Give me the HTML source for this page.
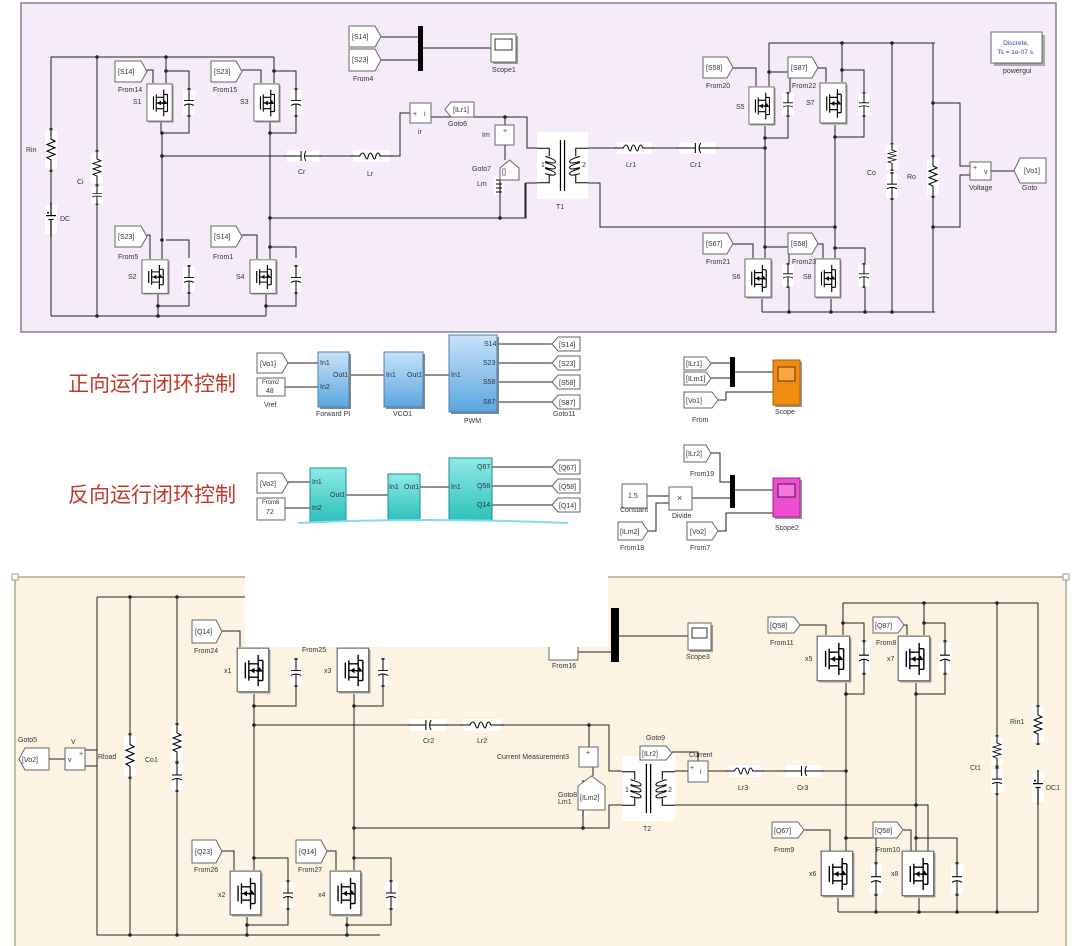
<!DOCTYPE html>
<html><head><meta charset="utf-8"><style>
html,body{margin:0;padding:0;background:#fff;}
svg{display:block;}
text{font-family:"Liberation Sans",sans-serif;font-size:7px;fill:#333;}
.w{stroke:#222;stroke-width:1;fill:none;}
.tag{fill:#fff;stroke:#666;stroke-width:1;}
.blk{fill:#fff;stroke:#666;stroke-width:1;}
.cn{font-family:"Liberation Sans","Noto Sans CJK SC",sans-serif;font-size:21px;fill:#c0392b;}
</style></head><body>
<svg width="1080" height="946" viewBox="0 0 1080 946" xmlns="http://www.w3.org/2000/svg">
<defs>
<symbol id="mos" viewBox="0 0 30 42" preserveAspectRatio="none">
<rect x="2.5" y="2.5" width="27" height="39" fill="#999"/>
<rect x="1" y="1" width="27" height="39" fill="#fff" stroke="#666"/>
<path d="M8 14v14 M11 12v18 M11 15h8v-8 M11 27h8v8 M11 21h8 M19 15v12 M23 12v18 M19 12h4 M19 30h4" stroke="#000" fill="none" stroke-width="1.2"/>
<path d="M12 21l4-2.5v5z M20 18l3 4h-6z" fill="#000"/>
</symbol>
<symbol id="capv" viewBox="0 0 12 30" preserveAspectRatio="none">
<rect x="0" y="2" width="12" height="26" fill="#fff"/>
<path d="M6 0v13 M1 13h10 M1 18q5-3 10 0 M6 16.5v13.5" stroke="#000" fill="none"/>
<rect x="4.5" y="0" width="3" height="2" fill="#333"/><rect x="4.5" y="28" width="3" height="2" fill="#333"/>
</symbol>
<symbol id="resv" viewBox="0 0 12 40" preserveAspectRatio="none">
<rect x="0" y="3" width="12" height="34" fill="#fff"/>
<path d="M6 0v10 l4 2-8 3 8 3-8 3 8 3-8 3 4 2v11" stroke="#000" fill="none"/>
<rect x="4.5" y="0" width="3" height="2" fill="#333"/><rect x="4.5" y="38" width="3" height="2" fill="#333"/>
</symbol>
<symbol id="bat" viewBox="0 0 12 36" preserveAspectRatio="none">
<rect x="0" y="3" width="12" height="30" fill="#fff"/>
<path d="M6 0v14 M1 14h10 M3.5 18h5 M6 18v18" stroke="#000" fill="none" stroke-width="1.2"/>
<circle cx="3" cy="11" r="1" fill="#000"/>
</symbol>
<symbol id="indh" viewBox="0 0 40 12" preserveAspectRatio="none">
<rect x="3" y="0" width="34" height="12" fill="#fff"/>
<path d="M0 6h9 q3-6 5 0 q2 6 3 0 q2-6 4 0 q2 6 3 0 q2-6 4 0 h12" stroke="#000" fill="none"/>
</symbol>
<symbol id="caph" viewBox="0 0 40 12" preserveAspectRatio="none">
<rect x="3" y="0" width="34" height="12" fill="#fff"/>
<path d="M0 6h18 M18 1v10 M23 1q-3 5 0 10 M21.5 6h18.5" stroke="#000" fill="none"/>
</symbol>
<symbol id="xf" viewBox="0 0 50 66" preserveAspectRatio="none">
<rect x="0" y="0" width="50" height="66" fill="#fff"/>
<path d="M23 8v50 M27 8v50" stroke="#000" stroke-width="1.2"/>
<path d="M0 16h12v8 M0 50h12v-8 M50 16h-12v8 M50 50h-12v-8" stroke="#000" fill="none"/>
<path d="M8 24q10 3 10 5q0 3-10 0 M8 30q10 3 10 5q0 3-10 0 M8 36q10 3 10 5q0 3-10 0 M42 24q-10 3-10 5q0 3 10 0 M42 30q-10 3-10 5q0 3 10 0 M42 36q-10 3-10 5q0 3 10 0" stroke="#000" fill="none"/>
</symbol>
</defs>

<!-- ===== TOP PANEL ===== -->
<rect x="21" y="3" width="1035" height="329" fill="#f6ebf8" stroke="#8c7d92" stroke-width="1.5"/>

<g class="w">
<path d="M51 57H274 M51 316H266 M51 57V316 M97 57V316"/>
<path d="M166 57V83 M166 71H189V88 M161 122V133H189V117 M162 133V259 M162 156H284"/>
<path d="M166 240H189V258 M162 240V259 M158 294V316 M158 306H189V294"/>
<path d="M274 57V83 M274 71H296V88 M270 122V133H296V117 M270 133V259 M270 218H526V183H537"/>
<path d="M270 247H296V258 M266 294V316 M266 306H296V294"/>
<path d="M147 70H153V83 M242 70H261V83 M147 235H150V259 M242 235H257V259"/>
<path d="M322 156H350 M393 156H400V113H410"/>
<path d="M431 117H505V125 M505 117H527V148H537 M505 145V160 M500 193V218 M525 183V218"/>
<path d="M381 37H419 M381 60H419 M423 48H491"/>
<path d="M588 148H614 M655 148H676 M719 148H766 M588 183H600V227H835"/>
<path d="M769 43H935 M769 43V86 M769 72H790V92 M765 126V138H788V117 M765 138V258"/>
<path d="M842 43V82 M842 70H864V92 M835 125V137H864V117 M835 137V258"/>
<path d="M765 247H789V263 M835 248H865V263 M762 299V312 M831 299V312 M762 312H935 M789 288V312 M865 288V312"/>
<path d="M892 43V143 M892 200V312 M933 43V155 M933 198V312 M933 103H960V166H970 M933 227H960V175H970 M991 171H1014"/>
<path d="M733 68H756V86 M818 68H826V82 M733 244H753V258 M818 244H823V258"/>
</g>
<g fill="#222">
<circle cx="97" cy="57" r="1.8"/><circle cx="166" cy="57" r="1.8"/><circle cx="97" cy="316" r="1.8"/><circle cx="158" cy="316" r="1.8"/>
<circle cx="166" cy="71" r="1.8"/><circle cx="162" cy="133" r="1.8"/><circle cx="162" cy="156" r="1.8"/><circle cx="162" cy="240" r="1.8"/><circle cx="158" cy="306" r="1.8"/>
<circle cx="274" cy="71" r="1.8"/><circle cx="270" cy="133" r="1.8"/><circle cx="270" cy="218" r="1.8"/><circle cx="270" cy="247" r="1.8"/><circle cx="266" cy="306" r="1.8"/>
<circle cx="505" cy="117" r="1.8"/><circle cx="500" cy="218" r="1.8"/>
<circle cx="842" cy="43" r="1.8"/><circle cx="892" cy="43" r="1.8"/><circle cx="769" cy="72" r="1.8"/><circle cx="842" cy="70" r="1.8"/>
<circle cx="765" cy="138" r="1.8"/><circle cx="835" cy="137" r="1.8"/><circle cx="765" cy="148" r="1.8"/><circle cx="835" cy="227" r="1.8"/>
<circle cx="765" cy="247" r="1.8"/><circle cx="835" cy="248" r="1.8"/><circle cx="789" cy="312" r="1.8"/><circle cx="831" cy="312" r="1.8"/><circle cx="865" cy="312" r="1.8"/><circle cx="892" cy="312" r="1.8"/>
<circle cx="933" cy="103" r="1.8"/><circle cx="933" cy="227" r="1.8"/>
</g>
<use href="#resv" x="45" y="128" width="12" height="44"/>
<use href="#bat" x="45" y="202" width="12" height="35"/>
<use href="#resv" x="91" y="150" width="12" height="36"/>
<use href="#capv" x="91" y="185" width="12" height="20"/>
<use href="#mos" x="146" y="83" width="28" height="40"/>
<use href="#mos" x="253" y="83" width="28" height="40"/>
<use href="#mos" x="141" y="259" width="29" height="36"/>
<use href="#mos" x="249" y="259" width="29" height="36"/>
<use href="#capv" x="183" y="88" width="12" height="29"/>
<use href="#capv" x="290" y="88" width="12" height="29"/>
<use href="#capv" x="183" y="265" width="12" height="29"/>
<use href="#capv" x="290" y="265" width="12" height="29"/>
<use href="#caph" x="284" y="150" width="38" height="12"/>
<use href="#indh" x="350" y="150" width="43" height="12"/>
<use href="#xf" x="537" y="132" width="51" height="67"/>
<use href="#indh" x="614" y="142" width="41" height="12"/>
<use href="#caph" x="676" y="142" width="43" height="12"/>
<use href="#mos" x="748" y="86" width="28" height="40"/>
<use href="#mos" x="819" y="82" width="29" height="43"/>
<use href="#mos" x="744" y="258" width="29" height="41"/>
<use href="#mos" x="814" y="258" width="28" height="41"/>
<use href="#capv" x="782" y="92" width="12" height="25"/>
<use href="#capv" x="858" y="92" width="12" height="25"/>
<use href="#capv" x="782" y="263" width="12" height="25"/>
<use href="#capv" x="858" y="263" width="12" height="25"/>
<use href="#resv" x="886" y="143" width="12" height="28"/>
<use href="#capv" x="886" y="172" width="12" height="28"/>
<use href="#resv" x="927" y="155" width="12" height="43"/>
<rect x="494" y="177" width="10" height="18" fill="#fff"/>
<path d="M500 177v18 M496 180h6 M496 184h6 M496 188h6 M496 192h6" stroke="#000"/>

<g><path class="tag" d="M115 61h26l6 10.5-6 10.5h-26z"/><text x="118" y="74">[S14]</text></g>
<g><path class="tag" d="M211 61h25l6 10.5-6 10.5h-25z"/><text x="214" y="74">[S23]</text></g>
<g><path class="tag" d="M115 226h26l6 10.5-6 10.5h-26z"/><text x="118" y="239">[S23]</text></g>
<g><path class="tag" d="M211 226h25l6 10.5-6 10.5h-25z"/><text x="214" y="239">[S14]</text></g>
<g><path class="tag" d="M349 26h26l6 10.5-6 10.5h-26z"/><text x="352" y="39">[S14]</text></g>
<g><path class="tag" d="M349 49h26l6 11-6 11h-26z"/><text x="352" y="62">[S23]</text></g>
<rect x="418" y="26" width="5" height="45" fill="#000"/>
<rect x="493" y="36" width="25" height="28" fill="#999"/><rect x="491" y="34" width="25" height="28" class="blk"/><rect x="495" y="39" width="17" height="11" fill="#fff" stroke="#333"/>
<rect x="410" y="103" width="21" height="20" class="blk"/><text x="413" y="116">+</text><text x="424" y="116">i</text>
<g><path class="tag" d="M451 102h23v15h-23l-6-7.5z"/><text x="453" y="112">[ILr1]</text></g>
<rect x="495" y="125" width="19" height="20" class="blk"/><text x="503" y="133">+</text>
<g><path class="tag" d="M500 168l9.5-8 9.5 8v12h-19z"/><text x="502" y="174">[]</text></g>
<g><path class="tag" d="M703 57h24l6 10.5-6 10.5h-24z"/><text x="706" y="70">[S58]</text></g>
<g><path class="tag" d="M788 57h24l6 10.5-6 10.5h-24z"/><text x="791" y="70">[S87]</text></g>
<g><path class="tag" d="M703 233h24l6 10.5-6 10.5h-24z"/><text x="706" y="246">[S67]</text></g>
<g><path class="tag" d="M788 233h24l6 10.5-6 10.5h-24z"/><text x="791" y="246">[S58]</text></g>
<rect x="970" y="162" width="21" height="18" class="blk"/><text x="973" y="170">+</text><text x="984" y="174">v</text>
<g><path class="tag" d="M1020 158h26v25h-26l-6-12.5z"/><text x="1024" y="173">[Vo1]</text></g>
<rect x="994" y="35" width="51" height="31" fill="#aaa"/><rect x="991" y="32" width="51" height="31" class="blk"/>
<text x="1016" y="45" text-anchor="middle" style="fill:#2a3d9a;font-size:6.5px">Discrete,</text>
<text x="1016" y="54" text-anchor="middle" style="fill:#2a3d9a;font-size:6.5px">Ts = 1e-07 s.</text>

<text x="26" y="152">Rin</text><text x="60" y="221">DC</text><text x="77" y="184">Ci</text>
<text x="118" y="92">From14</text><text x="213" y="92">From15</text><text x="118" y="259">From5</text><text x="213" y="259">From1</text>
<text x="133" y="104">S1</text><text x="240" y="104">S3</text><text x="128" y="279">S2</text><text x="236" y="279">S4</text>
<text x="298" y="174">Cr</text><text x="367" y="176">Lr</text><text x="418" y="134">ir</text><text x="448" y="126">Goto6</text>
<text x="482" y="137">Im</text><text x="472" y="171">Goto7</text><text x="477" y="186">Lm</text>
<text x="353" y="81">From4</text><text x="492" y="72">Scope1</text>
<text x="541" y="167">1</text><text x="582" y="167">2</text><text x="556" y="209">T1</text>
<text x="626" y="167">Lr1</text><text x="690" y="167">Cr1</text>
<text x="706" y="88">From20</text><text x="792" y="88">From22</text><text x="706" y="264">From21</text><text x="792" y="264">From23</text>
<text x="736" y="109">S5</text><text x="806" y="105">S7</text><text x="732" y="279">S6</text><text x="803" y="279">S8</text>
<text x="867" y="175">Co</text><text x="907" y="179">Ro</text><text x="969" y="190">Voltage</text><text x="1022" y="190">Goto</text>
<text x="1003" y="73">powergui</text>

<!-- ===== MIDDLE ===== -->
<text class="cn" x="68" y="391">正向运行闭环控制</text>
<text class="cn" x="68" y="502">反向运行闭环控制</text>
<defs>
<linearGradient id="bl" x1="0" y1="0" x2="0" y2="1"><stop offset="0" stop-color="#c7e3fa"/><stop offset="1" stop-color="#5ba6e0"/></linearGradient>
<linearGradient id="tl" x1="0" y1="0" x2="0" y2="1"><stop offset="0" stop-color="#8eeae6"/><stop offset="1" stop-color="#2cc0bb"/></linearGradient>
</defs>
<g class="w">
<path d="M288 363H318 M285 387H318 M349 375H384 M423 375H449 M497 344H552 M497 363H552 M497 382H552 M497 402H552"/>
<path d="M711 363H730 M711 378H730 M735 372H773 M718 400H726V392H773"/>
<path d="M288 482H310 M285 508H310 M346 495H388 M420 487H449 M492 467H552 M492 486H552 M492 505H552"/>
<path d="M647 496H669 M648 531H656V503H669 M692 498H730 M711 453H720V482H730 M735 490H773 M718 531H726V513H773"/>
</g>
<g><path class="tag" d="M257 353h25l6 10-6 10h-25z"/><text x="260" y="366">[Vo1]</text></g>
<rect x="257" y="378" width="28" height="18" class="blk"/><text x="262" y="384" style="font-size:6px">From2</text><text x="266" y="393">48</text>
<rect x="320" y="354" width="31" height="55" fill="#888"/><rect x="318" y="352" width="31" height="55" fill="url(#bl)" stroke="#4a7fb0"/>
<text x="320" y="365">In1</text><text x="320" y="389">In2</text><text x="333" y="377">Out1</text>
<rect x="386" y="354" width="39" height="55" fill="#888"/><rect x="384" y="352" width="39" height="55" fill="url(#bl)" stroke="#4a7fb0"/>
<text x="386" y="377">In1</text><text x="407" y="377">Out1</text>
<rect x="451" y="337" width="48" height="77" fill="#888"/><rect x="449" y="335" width="48" height="77" fill="url(#bl)" stroke="#4a7fb0"/>
<text x="451" y="377">In1</text><text x="484" y="346">S14</text><text x="483" y="365">S23</text><text x="483" y="384">S58</text><text x="483" y="404">S67</text>
<g><path class="tag" d="M558 337h22v14h-22l-6-7z"/><text x="559" y="347">[S14]</text></g>
<g><path class="tag" d="M558 356h22v14h-22l-6-7z"/><text x="559" y="366">[S23]</text></g>
<g><path class="tag" d="M558 375h22v14h-22l-6-7z"/><text x="559" y="385">[S58]</text></g>
<g><path class="tag" d="M558 395h22v14h-22l-6-7z"/><text x="559" y="405">[S87]</text></g>
<text x="264" y="407">Vref</text><text x="316" y="416">Forward PI</text><text x="393" y="416">VCO1</text><text x="464" y="423">PWM</text><text x="553" y="416">Goto11</text>
<g><path class="tag" d="M684 357h22l5 6.5-5 6.5h-22z"/><text x="686" y="366">[ILr1]</text></g>
<g><path class="tag" d="M684 372h22l5 6.5-5 6.5h-22z"/><text x="686" y="381">[ILm1]</text></g>
<g><path class="tag" d="M684 392h28l6 8-6 8h-28z"/><text x="686" y="403">[Vo1]</text></g>
<rect x="730" y="357" width="5" height="30" fill="#000"/>
<rect x="775" y="362" width="27" height="45" fill="#999"/><rect x="773" y="360" width="27" height="45" fill="#f28b12" stroke="#b05f00"/><rect x="778" y="367" width="17" height="14" fill="#f7a640" stroke="#6a3300"/>
<text x="692" y="422">From</text><text x="775" y="414">Scope</text>

<g><path class="tag" d="M257 473h25l6 10-6 10h-25z"/><text x="260" y="486">[Vo2]</text></g>
<rect x="257" y="498" width="28" height="22" class="blk"/><text x="262" y="504" style="font-size:6px">From6</text><text x="266" y="514">72</text>
<rect x="310" y="468" width="36" height="54" fill="url(#tl)" stroke="#1d8f8b"/>
<text x="312" y="484">In1</text><text x="312" y="510">In2</text><text x="330" y="497">Out1</text>
<rect x="388" y="474" width="32" height="48" fill="url(#tl)" stroke="#1d8f8b"/>
<text x="389" y="489">In1</text><text x="404" y="489">Out1</text>
<rect x="449" y="458" width="43" height="64" fill="url(#tl)" stroke="#1d8f8b"/>
<text x="451" y="489">In1</text><text x="477" y="469">Q67</text><text x="477" y="488">Q58</text><text x="477" y="507">Q14</text>
<g><path class="tag" d="M558 460h22v14h-22l-6-7z"/><text x="559" y="470">[Q67]</text></g>
<g><path class="tag" d="M558 479h22v14h-22l-6-7z"/><text x="559" y="489">[Q58]</text></g>
<g><path class="tag" d="M558 498h22v14h-22l-6-7z"/><text x="559" y="508">[Q14]</text></g>
<path d="M298 524Q420 516 568 524V580H298Z" fill="#fff"/>
<path d="M298 523Q420 517 568 523" stroke="#7fdde8" stroke-width="2" fill="none"/>
<rect x="622" y="484" width="25" height="24" class="blk"/><text x="628" y="498">1.5</text>
<rect x="669" y="487" width="23" height="23" class="blk"/><text x="677" y="501" style="font-size:9px">×</text>
<g><path class="tag" d="M684 445h22l5 8.5-5 8.5h-22z"/><text x="686" y="456">[ILr2]</text></g>
<g><path class="tag" d="M618 522h24l6 9-6 9h-24z"/><text x="620" y="534">[ILm2]</text></g>
<g><path class="tag" d="M687 522h25l6 9-6 9h-25z"/><text x="690" y="534">[Vo2]</text></g>
<rect x="730" y="475" width="5" height="33" fill="#000"/>
<rect x="775" y="480" width="27" height="39" fill="#999"/><rect x="773" y="478" width="27" height="39" fill="#ee4fd2" stroke="#a0208a"/><rect x="778" y="484" width="17" height="13" fill="#f479df" stroke="#5a0a4a"/>
<text x="690" y="476">From19</text><text x="620" y="512">Constant</text><text x="672" y="518">Divide</text><text x="620" y="550">From18</text><text x="690" y="550">From7</text><text x="775" y="530">Scope2</text>

<!-- ===== BOTTOM PANEL ===== -->
<rect x="15" y="577" width="1051" height="380" fill="#fdf3e2" stroke="#b4a98e" stroke-width="1.5"/>
<rect x="1063" y="574" width="6" height="6" fill="#fff" stroke="#999"/>
<rect x="12" y="574" width="6" height="6" fill="#fff" stroke="#999"/>
<g class="w">
<path d="M97 597H380 M97 597V935H380 M97 750H85 M97 766H85 M65 759H49"/>
<path d="M130 597V735 M130 777V935 M177 597V725 M177 790V935"/>
<path d="M258 597V647 M254 694V706H296V685 M254 706V870 M254 725H407 M449 725H460 M504 725H609V771H622 M589 725V747"/>
<path d="M254 858H288V882 M247 917V935 M247 925H288V908"/>
<path d="M358 597V647 M354 694V706H383V685 M354 706V870 M354 828H609V805H622 M583 815V828"/>
<path d="M354 858H391V882 M347 917V935 M347 925H391V908"/>
<path d="M222 631H240V647 M327 851H336V870 M222 851H234V870"/>
<path d="M578 652H611 M619 636H688 M593 767V776"/>
<path d="M675 771H688 M708 771H726 M764 771H783 M824 771H846 M675 805H928V851 M698 761V752H672"/>
<path d="M843 603H1038 M843 603V635 M843 623H864V640 M846 683V694H864V675 M846 694V851"/>
<path d="M924 603V635 M924 623H945V640 M916 683V694H945V675 M916 694V851 M846 838H876V862 M916 838H957V862"/>
<path d="M838 898V912 M919 898V912 M838 912H1038 M876 896V912 M957 896V912 M997 603V735 M997 795V912 M1038 603V705 M1038 805V912"/>
<path d="M800 625H826V635 M904 625H907V635 M804 830H830V851 M903 830H911V851"/>
</g>
<g fill="#222">
<circle cx="130" cy="597" r="1.8"/><circle cx="177" cy="597" r="1.8"/><circle cx="130" cy="935" r="1.8"/><circle cx="177" cy="935" r="1.8"/><circle cx="247" cy="935" r="1.8"/><circle cx="347" cy="935" r="1.8"/>
<circle cx="254" cy="706" r="1.8"/><circle cx="254" cy="725" r="1.8"/><circle cx="254" cy="858" r="1.8"/><circle cx="247" cy="925" r="1.8"/>
<circle cx="354" cy="706" r="1.8"/><circle cx="354" cy="828" r="1.8"/><circle cx="354" cy="858" r="1.8"/><circle cx="347" cy="925" r="1.8"/>
<circle cx="589" cy="725" r="1.8"/><circle cx="583" cy="828" r="1.8"/>
<circle cx="924" cy="603" r="1.8"/><circle cx="997" cy="603" r="1.8"/><circle cx="843" cy="623" r="1.8"/><circle cx="924" cy="623" r="1.8"/>
<circle cx="846" cy="694" r="1.8"/><circle cx="916" cy="694" r="1.8"/><circle cx="846" cy="771" r="1.8"/><circle cx="916" cy="805" r="1.8"/>
<circle cx="846" cy="838" r="1.8"/><circle cx="916" cy="838" r="1.8"/><circle cx="876" cy="912" r="1.8"/><circle cx="919" cy="912" r="1.8"/><circle cx="957" cy="912" r="1.8"/><circle cx="997" cy="912" r="1.8"/>
</g>
<use href="#resv" x="124" y="733" width="12" height="46"/>
<use href="#resv" x="171" y="723" width="12" height="40"/>
<use href="#capv" x="171" y="762" width="12" height="30"/>
<use href="#mos" x="236" y="647" width="35" height="47"/>
<use href="#mos" x="336" y="647" width="35" height="47"/>
<use href="#mos" x="229" y="870" width="34" height="47"/>
<use href="#mos" x="329" y="870" width="34" height="47"/>
<use href="#capv" x="290" y="658" width="12" height="29"/>
<use href="#capv" x="377" y="658" width="12" height="29"/>
<use href="#capv" x="282" y="880" width="12" height="30"/>
<use href="#capv" x="385" y="880" width="12" height="30"/>
<use href="#caph" x="407" y="719" width="42" height="12"/>
<use href="#indh" x="460" y="719" width="44" height="12"/>
<use href="#xf" x="622" y="756" width="53" height="65"/>
<use href="#indh" x="726" y="765" width="38" height="12"/>
<use href="#caph" x="783" y="765" width="41" height="12"/>
<use href="#mos" x="816" y="635" width="36" height="48"/>
<use href="#mos" x="897" y="635" width="35" height="48"/>
<use href="#mos" x="820" y="850" width="35" height="48"/>
<use href="#mos" x="901" y="850" width="35" height="48"/>
<use href="#capv" x="858" y="640" width="12" height="35"/>
<use href="#capv" x="939" y="640" width="12" height="35"/>
<use href="#capv" x="870" y="862" width="12" height="34"/>
<use href="#capv" x="951" y="862" width="12" height="34"/>
<use href="#resv" x="991" y="735" width="12" height="32"/>
<use href="#capv" x="991" y="767" width="12" height="28"/>
<use href="#resv" x="1032" y="705" width="12" height="40"/>
<use href="#bat" x="1032" y="770" width="12" height="35"/>
<rect x="578" y="780" width="10" height="35" fill="#fff"/>
<path d="M583 780v35 M580 785q6 2 0 4 q6 2 0 4 q6 2 0 4 q6 2 0 4 q6 2 0 4" stroke="#000" fill="none"/>

<g><path class="tag" d="M25 748h24v22h-24l-6-11z"/><text x="22" y="762">[Vo2]</text></g>
<rect x="65" y="748" width="20" height="22" class="blk"/><text x="68" y="762">v</text><text x="79" y="756">+</text>
<g><path class="tag" d="M192 620h24l6 11.5-6 11.5h-24z"/><text x="195" y="634">[Q14]</text></g>
<g><path class="tag" d="M192 840h24l6 11.5-6 11.5h-24z"/><text x="195" y="854">[Q23]</text></g>
<g><path class="tag" d="M296 840h25l6 11.5-6 11.5h-25z"/><text x="299" y="854">[Q14]</text></g>
<rect x="579" y="747" width="19" height="20" class="blk"/><text x="586" y="755">+</text>
<g><path class="tag" d="M578 786l13.5-10 13.5 10v24h-27z"/><text x="580" y="800">[ILm2]</text></g>
<g><path class="tag" d="M640 746h26l6 7-6 7h-26z"/><text x="642" y="756">[ILr2]</text></g>
<rect x="688" y="761" width="20" height="21" class="blk"/><text x="690" y="770">+</text><text x="700" y="774">i</text>
<g><path class="tag" d="M768 617h26l6 8-6 8h-26z"/><text x="770" y="628">[Q58]</text></g>
<g><path class="tag" d="M873 617h25l6 8-6 8h-25z"/><text x="875" y="628">[Q87]</text></g>
<g><path class="tag" d="M772 822h26l6 8-6 8h-26z"/><text x="774" y="833">[Q67]</text></g>
<g><path class="tag" d="M873 822h24l6 8-6 8h-24z"/><text x="875" y="833">[Q58]</text></g>
<rect x="611" y="608" width="8" height="54" fill="#000"/>
<rect x="690" y="625" width="23" height="27" fill="#999"/><rect x="688" y="623" width="23" height="27" class="blk"/><rect x="692" y="628" width="15" height="10" fill="#fff" stroke="#333"/>
<g><path class="tag" d="M549 645h23l6-7v22h-29z"/></g>

<text x="18" y="742">Goto5</text><text x="71" y="744">V</text><text x="98" y="759">Rload</text><text x="145" y="762">Co1</text>
<text x="194" y="653">From24</text><text x="302" y="652">From25</text><text x="194" y="872">From26</text><text x="298" y="872">From27</text>
<text x="224" y="673">x1</text><text x="324" y="673">x3</text><text x="218" y="897">x2</text><text x="318" y="897">x4</text>
<text x="423" y="743">Cr2</text><text x="477" y="743">Lr2</text>
<text x="497" y="759">Current Measurement3</text><text x="558" y="797">Goto8</text><text x="558" y="804">Lm1</text>
<text x="646" y="740">Goto9</text><text x="689" y="757">Current</text>
<text x="625" y="792">1</text><text x="668" y="792">2</text><text x="643" y="831">T2</text>
<text x="738" y="790">Lr3</text><text x="797" y="790">Cr3</text>
<text x="770" y="645">From11</text><text x="876" y="645">From8</text><text x="774" y="852">From9</text><text x="876" y="852">From10</text>
<text x="805" y="661">x5</text><text x="887" y="661">x7</text><text x="809" y="876">x6</text><text x="891" y="876">x8</text>
<text x="970" y="770">Ct1</text><text x="1010" y="724">Rin1</text><text x="1046" y="790">DC1</text>
<text x="552" y="668">From16</text><text x="686" y="659">Scope3</text>

<rect x="245" y="574" width="363" height="73" fill="#fff"/>
</svg>
</body></html>
